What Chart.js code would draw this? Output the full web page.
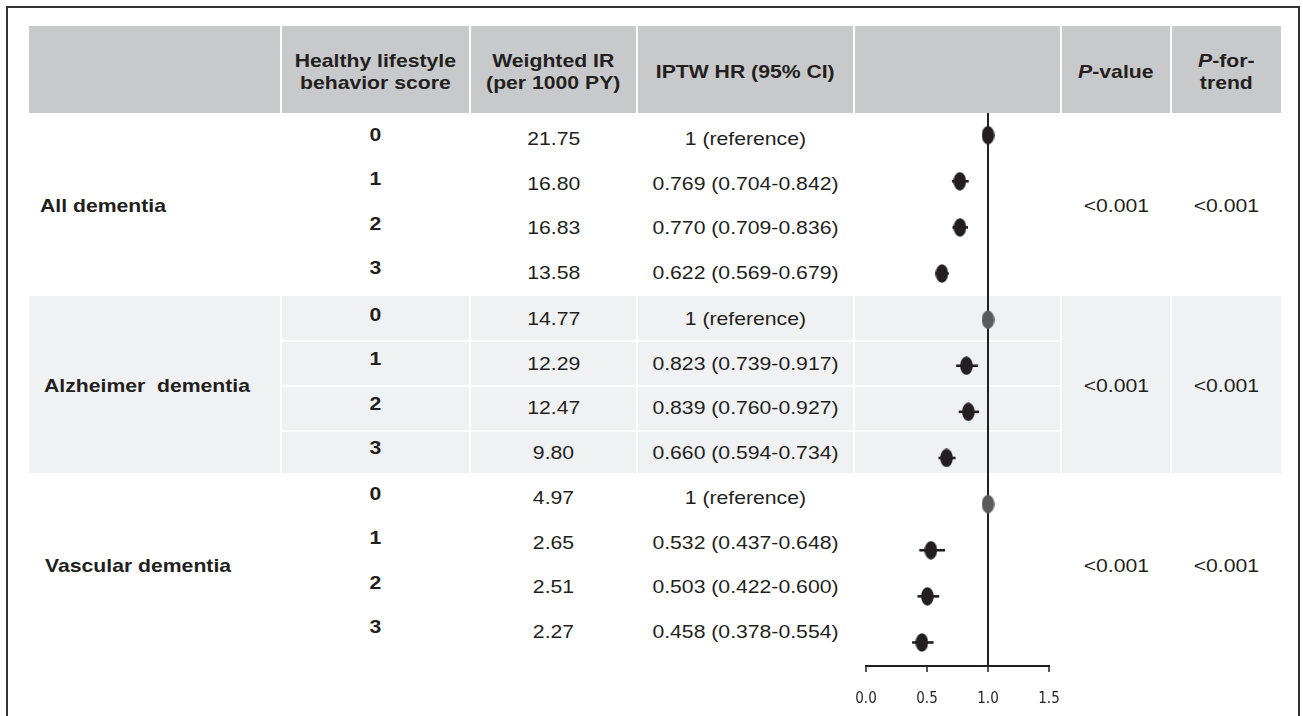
<!DOCTYPE html>
<html><head><meta charset="utf-8">
<script src="https://cdn.jsdelivr.net/npm/chart.js@4.4.1/dist/chart.umd.min.js"></script>
<style>
html,body{margin:0;padding:0;background:#fff;}
#page{position:relative;width:1303px;height:716px;overflow:hidden;font-family:"Liberation Sans",Arial,Helvetica,sans-serif;color:#231f20;}
.box{position:absolute;}
.t{position:absolute;font-size:19px;line-height:22px;white-space:pre;text-align:center;}
.t span{display:inline-block;transform:scaleX(1.115);transform-origin:center center;}
.t.left{text-align:left;}
.t.left span{transform-origin:left center;}
.b{font-weight:bold;}
#forest{position:absolute;left:855px;top:113px;}
</style></head>
<body>
<div id="page"><canvas id="forest" width="207" height="603"></canvas></div>
<script>
// ---------------- DATA ----------------
const outcomes = ['All dementia', 'Alzheimer  dementia', 'Vascular dementia'];
const scores = ['0', '1', '2', '3'];
const weightedIR = [21.75, 16.80, 16.83, 13.58, 14.77, 12.29, 12.47, 9.80, 4.97, 2.65, 2.51, 2.27];
const hrValues = [1, 0.769, 0.770, 0.622, 1, 0.823, 0.839, 0.660, 1, 0.532, 0.503, 0.458];
const ciLow  = [null, 0.704, 0.709, 0.569, null, 0.739, 0.760, 0.594, null, 0.437, 0.422, 0.378];
const ciHigh = [null, 0.842, 0.836, 0.679, null, 0.917, 0.927, 0.734, null, 0.648, 0.600, 0.554];
const pValues = ['<0.001', '<0.001', '<0.001'];
const pTrend = ['<0.001', '<0.001', '<0.001'];
const headers = ['', 'Healthy lifestyle<br>behavior score', 'Weighted IR<br>(per 1000 PY)', 'IPTW HR (95% CI)', '', '<i>P</i>-value', '<i>P</i>-for-<br>trend'];
const xTicks = [0, 0.5, 1.0, 1.5];

// ---------------- LAYOUT / STYLE ----------------
const INK = '#231f20';
const cols = [[29,280],[282,469],[471,636],[638,853],[855,1060],[1062,1170],[1172,1281]];
const headTop = 26, headBottom = 113;
const groupTextTop = [139, 319, 498];   // cap-centre of first row text per group
const rowStep = 44.6;
const scoreShift = -4.5;
const groupLabelY = [206, 386, 566];
const labelLeft = [40, 44, 45];
const shadedGroup = 1;
const bandTop = 296, bandBottom = 473;
const refPointColor = ['#231f20', '#5a5a5c', '#5a5a5c'];

const page = document.getElementById('page');
const canvasEl = document.getElementById('forest');
function box(l, t, w, h, color) {
  const d = document.createElement('div');
  d.className = 'box';
  d.style.cssText = `left:${l}px;top:${t}px;width:${w}px;height:${h}px;background:${color};`;
  page.insertBefore(d, canvasEl);
  return d;
}
function text(html, l, w, cy, opts = {}) {
  const d = document.createElement('div');
  d.className = 't' + (opts.bold ? ' b' : '') + (opts.left ? ' left' : '');
  const lines = opts.lines || 1;
  const lh = opts.lh || 22;
  d.style.left = l + 'px';
  if (w != null) d.style.width = w + 'px';
  d.style.top = (cy - lines * lh / 2) + 'px';
  d.style.lineHeight = lh + 'px';
  d.innerHTML = '<span>' + html + '</span>';
  page.appendChild(d);
}
const esc = s => s.replace(/&/g,'&amp;').replace(/</g,'&lt;');

// frame
box(6, 6, 1293, 2, '#333');
box(6, 6, 2, 710, '#333');
box(1298, 6, 2, 710, '#333');

// header cells
cols.forEach(([a, b]) => box(a, headTop, b - a, headBottom - headTop, '#c8c9cb'));
// shaded Alzheimer band
cols.forEach(([a, b]) => box(a, bandTop, b - a, bandBottom - bandTop, '#f0f1f3'));
// white separators inside shaded band (columns 2-5)
for (let r = 1; r < 4; r++) {
  const y = groupTextTop[shadedGroup] + (r - 0.5) * rowStep;
  box(cols[1][0], Math.round(y) - 1, cols[4][1] - cols[1][0], 2, '#ffffff');
}

// header texts
headers.forEach((h, i) => {
  if (!h) return;
  const n = h.split('<br>').length;
  text(h, cols[i][0], cols[i][1] - cols[i][0], 72, { bold: true, lines: n, lh: 22.5 });
});

// body texts
outcomes.forEach((name, g) => {
  text(esc(name), labelLeft[g], null, groupLabelY[g], { bold: true, left: true });
  text(esc(pValues[g]), cols[5][0], cols[5][1] - cols[5][0], groupLabelY[g]);
  text(esc(pTrend[g]), cols[6][0], cols[6][1] - cols[6][0], groupLabelY[g]);
  scores.forEach((s, r) => {
    const i = g * 4 + r;
    const cy = groupTextTop[g] + r * rowStep;
    text(s, cols[1][0], cols[1][1] - cols[1][0], cy + scoreShift, { bold: true });
    text(weightedIR[i].toFixed(2), cols[2][0], cols[2][1] - cols[2][0], cy);
    const hrTxt = ciLow[i] == null ? `${hrValues[i]} (reference)`
      : `${hrValues[i].toFixed(3)} (${ciLow[i].toFixed(3)}-${ciHigh[i].toFixed(3)})`;
    text(hrTxt, cols[3][0], cols[3][1] - cols[3][0], cy);
  });
});

// ---------------- FOREST PLOT (Chart.js) ----------------
function ellipse(color) {
  const c = document.createElement('canvas');
  c.width = 13; c.height = 19;
  const g = c.getContext('2d');
  g.fillStyle = color;
  g.beginPath();
  g.ellipse(6.5, 9.5, 6.3, 9.3, 0, 0, Math.PI * 2);
  g.fill();
  return c;
}
const pointImgs = refPointColor.map(ellipse);
const darkPoint = ellipse(INK);

const datasets = [{
  label: 'HR',
  data: hrValues.map((v, i) => ({ x: v, y: i })),
  pointStyle: ctx => (ciLow[ctx.dataIndex] == null ? pointImgs[Math.floor(ctx.dataIndex / 4)] : darkPoint),
  pointRadius: 9,
  pointHoverRadius: 9,
  showLine: false,
  order: 0
}];
ciLow.forEach((lo, i) => {
  if (lo == null) return;
  datasets.push({
    label: 'CI ' + i,
    data: [{ x: lo, y: i }, { x: ciHigh[i], y: i }],
    showLine: true,
    borderColor: INK,
    borderWidth: 2.6,
    pointRadius: 0,
    order: 1
  });
});

new Chart(canvasEl, {
  type: 'scatter',
  data: { datasets },
  options: {
    responsive: false,
    animation: false,
    layout: { autoPadding: false, padding: { left: 11, right: 13, top: 0, bottom: 0 } },
    plugins: { legend: { display: false }, tooltip: { enabled: false } },
    scales: {
      x: {
        type: 'linear', min: 0, max: 1.5,
        afterBuildTicks: s => { s.ticks = xTicks.map(v => ({ value: v })); },
        afterFit: s => { s.height = 50; s.paddingLeft = 0; s.paddingRight = 0; },
        ticks: {
          callback: v => Number(v).toFixed(1),
          font: { family: '"Liberation Sans Narrow","DejaVu Sans Condensed","Liberation Sans",sans-serif', size: 15 },
          color: INK, padding: 18, maxRotation: 0, autoSkip: false
        },
        grid: {
          color: c => (c.tick && c.tick.value === 1 ? INK : 'rgba(0,0,0,0)'),
          lineWidth: 2, tickColor: INK, tickLength: 6, tickWidth: 1.5, drawTicks: true
        },
        border: { display: true, color: INK, width: 2 }
      },
      y: { type: 'linear', min: -0.48, max: 11.51, reverse: true, display: false }
    }
  }
});
</script>
</body></html>
